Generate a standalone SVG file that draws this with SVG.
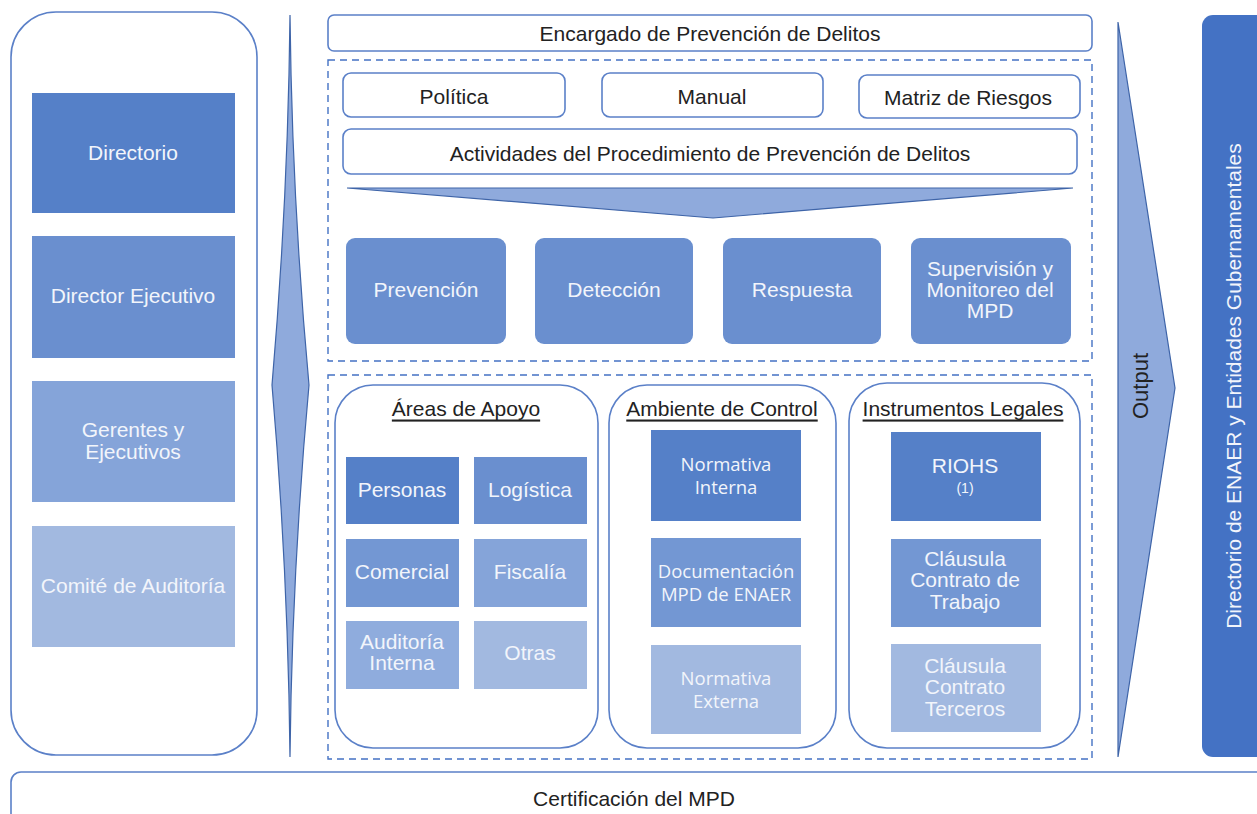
<svg xmlns="http://www.w3.org/2000/svg" width="1257" height="814" viewBox="0 0 1257 814">
<style>
text{font-family:"Liberation Sans",Arial,sans-serif;text-anchor:middle;dominant-baseline:central}
.frame{fill:#fff;stroke:#5B80C8;stroke-width:1.6}
.dash{fill:none;stroke:#4472C4;stroke-width:1.4;stroke-dasharray:7 5}
.dk{fill:#222;font-size:21px}
.wt{fill:#F2F5FB;font-size:21px}
.ws{fill:#F2F5FB;font-size:18.5px;font-family:"Open Sans","Liberation Sans",sans-serif}
.ttl{fill:#222;font-size:21px;text-decoration:underline}
.c1{fill:#5580C8}.c2{fill:#6A8FCF}.c3{fill:#7397D3}.c4{fill:#85A4D9}.c5{fill:#8FACDD}.c6{fill:#A2B9E0}
.arrow{fill:#8FAADC;stroke:#3E64A8;stroke-width:1.2}
</style>
<g id="left-panel">
<rect class="frame" x="11" y="12" width="246" height="743" rx="45"/>
</g>
<g id="directorio"><rect class="c1" x="32" y="93" width="203" height="120"/><text class="wt" x="133" y="152">Directorio</text></g>
<g id="director-ejecutivo"><rect class="c2" x="32" y="236" width="203" height="122"/><text class="wt" x="133" y="295">Director Ejecutivo</text></g>
<g id="gerentes"><rect class="c4" x="32" y="381" width="203" height="121"/><text class="wt" x="133" y="429">Gerentes y</text><text class="wt" x="133" y="451">Ejecutivos</text></g>
<g id="comite"><rect class="c6" x="32" y="526" width="203" height="121"/><text class="wt" x="133" y="585">Comité de Auditoría</text></g>

<g id="connectors">
<path class="arrow" d="M290,15 Q292,200 309,385 Q292,570 290,757 Q288,570 272,385 Q288,200 290,15 Z"/>
<path class="arrow" d="M347,188 L1073,188 L713,218 Z"/>
<path class="arrow" d="M1118,22 L1175,388 L1118,757 Z"/>
</g>

<g id="encargado"><rect class="frame" x="328" y="15" width="764" height="36" rx="6"/><text class="dk" x="710" y="33">Encargado de Prevención de Delitos</text></g>

<g id="zona-superior"><rect class="dash" x="328" y="60" width="764" height="301"/></g>
<g id="politica"><rect class="frame" x="343" y="73" width="222" height="44" rx="8"/><text class="dk" x="454" y="96">Política</text></g>
<g id="manual"><rect class="frame" x="602" y="73" width="221" height="44" rx="8"/><text class="dk" x="712" y="96">Manual</text></g>
<g id="matriz"><rect class="frame" x="859" y="75" width="221" height="43" rx="8"/><text class="dk" x="968" y="97">Matriz de Riesgos</text></g>
<g id="actividades"><rect class="frame" x="343" y="129" width="734" height="45" rx="8"/><text class="dk" x="710" y="153">Actividades del Procedimiento de Prevención de Delitos</text></g>

<g id="prevencion"><rect class="c2" x="346" y="238" width="160" height="106" rx="9"/><text class="wt" x="426" y="289">Prevención</text></g>
<g id="deteccion"><rect class="c2" x="535" y="238" width="158" height="106" rx="9"/><text class="wt" x="614" y="289">Detección</text></g>
<g id="respuesta"><rect class="c2" x="723" y="238" width="158" height="106" rx="9"/><text class="wt" x="802" y="289">Respuesta</text></g>
<g id="supervision"><rect class="c2" x="911" y="238" width="160" height="106" rx="9"/><text class="wt" x="990" y="268">Supervisión y</text><text class="wt" x="990" y="289">Monitoreo del</text><text class="wt" x="990" y="310">MPD</text></g>

<g id="zona-inferior"><rect class="dash" x="328" y="375" width="764" height="384"/></g>

<g id="areas-apoyo"><rect class="frame" x="335" y="385" width="263" height="363" rx="38"/><text class="ttl" x="466" y="408">Áreas de Apoyo</text></g>
<g id="personas"><rect class="c1" x="346" y="457" width="113" height="67"/><text class="wt" x="402" y="489">Personas</text></g>
<g id="logistica"><rect class="c2" x="474" y="457" width="113" height="67"/><text class="wt" x="530" y="489">Logística</text></g>
<g id="comercial"><rect class="c3" x="346" y="539" width="113" height="68"/><text class="wt" x="402" y="571">Comercial</text></g>
<g id="fiscalia"><rect class="c4" x="474" y="539" width="113" height="68"/><text class="wt" x="530" y="571">Fiscalía</text></g>
<g id="auditoria-interna"><rect class="c5" x="346" y="621" width="113" height="68"/><text class="wt" x="402" y="641">Auditoría</text><text class="wt" x="402" y="662">Interna</text></g>
<g id="otras"><rect class="c6" x="474" y="621" width="113" height="68"/><text class="wt" x="530" y="652">Otras</text></g>

<g id="ambiente-control"><rect class="frame" x="609" y="385" width="227" height="363" rx="38"/><text class="ttl" x="722" y="408">Ambiente de Control</text></g>
<g id="normativa-interna"><rect class="c1" x="651" y="430" width="150" height="91"/><text class="ws" x="726" y="463">Normativa</text><text class="ws" x="726" y="486">Interna</text></g>
<g id="documentacion"><rect class="c3" x="651" y="538" width="150" height="89"/><text class="ws" x="726" y="570">Documentación</text><text class="ws" x="726" y="593">MPD de ENAER</text></g>
<g id="normativa-externa"><rect class="c6" x="651" y="645" width="150" height="89"/><text class="ws" x="726" y="677">Normativa</text><text class="ws" x="726" y="700">Externa</text></g>

<g id="instrumentos-legales"><rect class="frame" x="849" y="383" width="231" height="365" rx="38"/><text class="ttl" x="963" y="408">Instrumentos Legales</text></g>
<g id="riohs"><rect class="c1" x="891" y="432" width="150" height="89"/><text class="wt" x="965" y="465">RIOHS</text><text class="wt" x="965" y="488" style="font-size:14px">(1)</text></g>
<g id="clausula-trabajo"><rect class="c3" x="891" y="539" width="150" height="88"/><text class="wt" x="965" y="558">Cláusula</text><text class="wt" x="965" y="579">Contrato de</text><text class="wt" x="965" y="601">Trabajo</text></g>
<g id="clausula-terceros"><rect class="c6" x="891" y="644" width="150" height="88"/><text class="wt" x="965" y="665">Cláusula</text><text class="wt" x="965" y="686">Contrato</text><text class="wt" x="965" y="708">Terceros</text></g>

<g id="output-label"><text class="dk" x="1140" y="386" transform="rotate(-90 1140 386)" style="font-size:22px">Output</text></g>

<g id="directorio-enaer"><rect x="1202" y="15" width="65" height="742" rx="11" fill="#4472C4"/><text class="wt" x="1233" y="386" transform="rotate(-90 1233 386)">Directorio de ENAER y Entidades Gubernamentales</text></g>

<g id="certificacion"><rect class="frame" x="11" y="772" width="1258" height="60" rx="10"/><text class="dk" x="634" y="798">Certificación del MPD</text></g>
</svg>
